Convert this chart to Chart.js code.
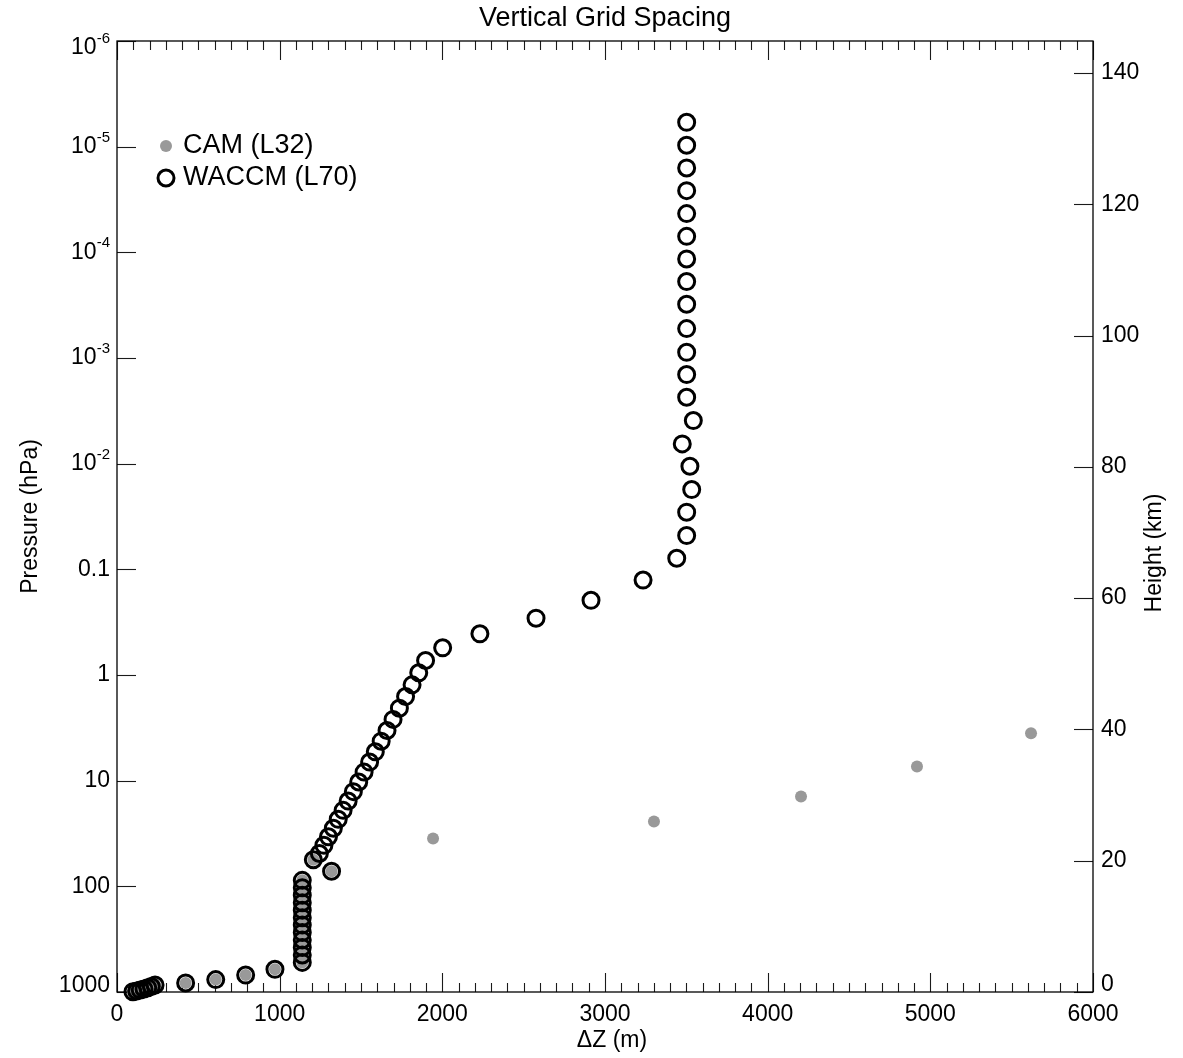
<!DOCTYPE html>
<html><head><meta charset="utf-8">
<script src="https://cdn.jsdelivr.net/npm/chart.js@4.4.1/dist/chart.umd.min.js"></script>
<style>html,body{margin:0;padding:0;background:#fff;}canvas{display:block;}</style>
</head><body>
<canvas id="c" width="1183" height="1058"></canvas>
<script>
// ---------- data ----------
const chartTitle = "Vertical Grid Spacing";
const xTitle = "\u0394Z (m)";
const leftTitle = "Pressure (hPa)";
const rightTitle = "Height (km)";
const seriesLabels = ["CAM (L32)", "WACCM (L70)"];

// CAM (L32): pressure level (hPa) and layer thickness dZ (m)
const camPressure = [992.6, 976.3, 957.5, 936.2, 912.6, 887.0, 859.5, 820.9, 763.4, 691.4, 609.8,
  524.7, 446.0, 379.1, 322.2, 273.9, 232.8, 197.9, 168.2, 143.0, 121.6, 103.3, 87.8,
  72.0, 56.0, 35.2, 24.3, 14.1, 7.33, 3.56];
const camDZ = [98, 121, 143, 166, 189, 211, 234, 422, 607, 791, 971,
  1139, 1139, 1139, 1139, 1139, 1139, 1139, 1139, 1139, 1139, 1139, 1139,
  1319, 1207, 1943, 3301, 4205, 4918, 5619];

// WACCM (L70)
const waccmPressure = [992.6, 976.3, 957.5, 936.2, 912.6, 887.0, 859.5, 820.9, 763.4, 691.4, 609.8,
  524.7, 446.0, 379.1, 322.2, 273.9, 232.8, 197.9, 168.2, 143.0, 121.6, 103.3, 87.8,
  72.0, 56.0, 48.9, 40.9, 34.0, 28.2, 23.2, 19.1, 15.6, 12.7, 10.3, 8.30, 6.67, 5.33, 4.23,
  3.35, 2.63, 2.06, 1.60, 1.24, 0.953, 0.729, 0.553, 0.4075, 0.29, 0.1965, 0.1264, 0.0785,
  0.0479, 0.0288, 0.01758, 0.01058, 0.0065, 0.00391, 0.002352, 0.001434, 8.83e-4, 5.27e-4,
  3.10e-4, 1.891e-4, 1.155e-4, 7.06e-5, 4.30e-5, 2.608e-5, 1.590e-5, 9.70e-6, 5.88e-6];
const waccmDZ = [98, 121, 143, 166, 189, 211, 234, 422, 607, 791, 971,
  1139, 1139, 1139, 1139, 1139, 1139, 1139, 1139, 1139, 1139, 1139, 1139,
  1319, 1207, 1244, 1272, 1300, 1330, 1360, 1390, 1421, 1453, 1486, 1519, 1553, 1588, 1624,
  1660, 1697, 1736, 1774, 1814, 1855, 1897, 2002, 2231, 2576, 2914, 3234, 3441,
  3502, 3502, 3533, 3522, 3475, 3543, 3502, 3502, 3502, 3502,
  3502, 3502, 3502, 3502, 3502, 3502, 3502, 3502, 3502];

// axes
const xTicks = [0, 1000, 2000, 3000, 4000, 5000, 6000];
const xMinorStep = 100;
const pressureRange = [1e-6, 1000];
const pressureTicks = [1000, 100, 10, 1, 0.1, 1e-2, 1e-3, 1e-4, 1e-5, 1e-6];
const pressureTickBase = ["1000", "100", "10", "1", "0.1", "10", "10", "10", "10", "10"];
const pressureTickExp  = ["", "", "", "", "", "-2", "-3", "-4", "-5", "-6"];
const heightRange = [0, 144.86];
const heightTicks = [0, 20, 40, 60, 80, 100, 120, 140];

// ---------- chart ----------
const FONT = '"Liberation Sans", Arial, Helvetica, sans-serif';
const GRAY = '#999999';

const decor = {
  id: 'decor',
  beforeDatasetsDraw(chart) {
    const { ctx, chartArea: a, scales } = chart;
    ctx.save();
    ctx.strokeStyle = '#1a1a1a';
    ctx.lineWidth = 1.1;
    const line = (x1, y1, x2, y2) => { ctx.beginPath(); ctx.moveTo(x1, y1); ctx.lineTo(x2, y2); ctx.stroke(); };
    for (let v = xTicks[0]; v <= xTicks[xTicks.length - 1]; v += xMinorStep) {
      const px = Math.round(scales.x.getPixelForValue(v)) + 0.5;
      const len = xTicks.includes(v) ? 19 : 9;
      line(px, a.bottom, px, a.bottom - len);
      line(px, a.top, px, a.top + len);
    }
    pressureTicks.forEach(p => {
      const py = Math.round(scales.y.getPixelForValue(p)) + 0.5;
      line(a.left, py, a.left + 19, py);
    });
    heightTicks.forEach(h => {
      const py = Math.round(scales.yH.getPixelForValue(h)) + 0.5;
      line(a.right, py, a.right - 19, py);
    });
    ctx.strokeStyle = '#000';
    ctx.lineWidth = 1.3;
    ctx.strokeRect(a.left, a.top, a.right - a.left, a.bottom - a.top);
    ctx.restore();
  },
  afterDraw(chart) {
    const { ctx, chartArea: a, scales } = chart;
    ctx.save();
    ctx.fillStyle = '#000';
    // title
    ctx.font = `27px ${FONT}`;
    ctx.textAlign = 'center'; ctx.textBaseline = 'middle';
    ctx.fillText(chartTitle, (a.left + a.right) / 2, 19);
    // x tick labels
    ctx.font = `23px ${FONT}`;
    xTicks.forEach(v => ctx.fillText(String(v), scales.x.getPixelForValue(v), a.bottom + 23));
    // x title
    ctx.fillText(xTitle, 612, 1041);
    // left tick labels with superscripts
    pressureTicks.forEach((p, i) => {
      let py = scales.y.getPixelForValue(p);
      if (i === 0) py -= 6;
      if (i === pressureTicks.length - 1) py += 7;
      const base = pressureTickBase[i], exp = pressureTickExp[i];
      ctx.font = `23px ${FONT}`;
      const wb = ctx.measureText(base).width;
      ctx.font = `15px ${FONT}`;
      const we = exp ? ctx.measureText(exp).width : 0;
      const right = a.left - 7;
      ctx.textAlign = 'left'; ctx.textBaseline = 'middle';
      ctx.font = `23px ${FONT}`;
      ctx.fillText(base, right - wb - we, py);
      if (exp) {
        ctx.font = `15px ${FONT}`;
        ctx.fillText(exp, right - we, py - 9);
      }
    });
    // right tick labels
    ctx.font = `23px ${FONT}`;
    ctx.textAlign = 'left'; ctx.textBaseline = 'middle';
    heightTicks.forEach((h, i) => {
      let py = scales.yH.getPixelForValue(h);
      if (i === 0) py -= 7;
      ctx.fillText(String(h), a.right + 8, py);
    });
    // axis titles
    ctx.save();
    ctx.translate(31, (a.top + a.bottom) / 2);
    ctx.rotate(-Math.PI / 2);
    ctx.textAlign = 'center'; ctx.textBaseline = 'middle';
    ctx.fillText(leftTitle, 0, 0);
    ctx.restore();
    ctx.save();
    ctx.translate(1155, 553);
    ctx.rotate(-Math.PI / 2);
    ctx.textAlign = 'center'; ctx.textBaseline = 'middle';
    ctx.fillText(rightTitle, 0, 0);
    ctx.restore();
    // legend
    ctx.beginPath(); ctx.arc(166, 146, 6, 0, Math.PI * 2); ctx.fillStyle = GRAY; ctx.fill();
    ctx.beginPath(); ctx.arc(166, 178, 8, 0, Math.PI * 2); ctx.strokeStyle = '#000'; ctx.lineWidth = 3; ctx.stroke();
    ctx.fillStyle = '#000';
    ctx.font = `27px ${FONT}`;
    ctx.textAlign = 'left'; ctx.textBaseline = 'middle';
    ctx.fillText(seriesLabels[0], 183, 146);
    ctx.fillText(seriesLabels[1], 183, 178);
    ctx.restore();
  }
};

new Chart(document.getElementById('c'), {
  type: 'scatter',
  data: {
    datasets: [
      {
        label: seriesLabels[1],
        data: waccmDZ.map((x, i) => ({ x, y: waccmPressure[i] })),
        yAxisID: 'y', order: 0, clip: false,
        pointRadius: 8, pointBorderWidth: 3,
        borderColor: '#000', backgroundColor: 'rgba(0,0,0,0)', showLine: false
      },
      {
        label: seriesLabels[0],
        data: camDZ.map((x, i) => ({ x, y: camPressure[i] })),
        yAxisID: 'y', order: 1, clip: false,
        pointRadius: 6, pointBorderWidth: 0,
        borderColor: GRAY, backgroundColor: GRAY, showLine: false
      }
    ]
  },
  options: {
    responsive: false, animation: false, events: [],
    layout: { padding: { top: 41, left: 0, right: 0, bottom: 0 } },
    plugins: { legend: { display: false }, tooltip: { enabled: false }, title: { display: false } },
    scales: {
      x: { type: 'linear', position: 'bottom', min: xTicks[0], max: xTicks[xTicks.length - 1],
           grid: { display: false }, border: { display: false }, ticks: { display: false },
           afterFit: s => { s.height = 66; } },
      y: { type: 'logarithmic', position: 'left', min: pressureRange[0], max: pressureRange[1], reverse: true,
           grid: { display: false }, border: { display: false }, ticks: { display: false },
           afterFit: s => { s.width = 117; } },
      yH: { type: 'linear', position: 'right', min: heightRange[0], max: heightRange[1],
           grid: { display: false }, border: { display: false }, ticks: { display: false },
           afterFit: s => { s.width = 90; } }
    }
  },
  plugins: [decor]
});
</script>
</body></html>
